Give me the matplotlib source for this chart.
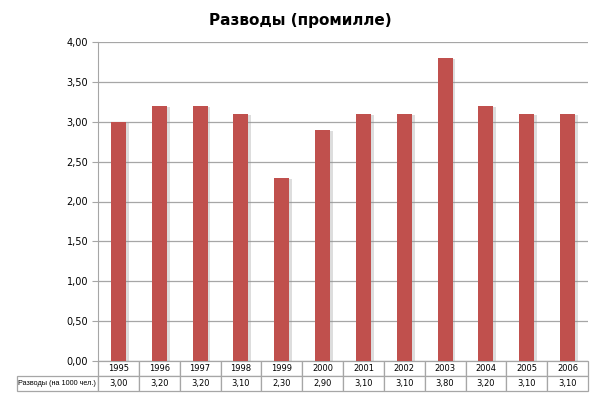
import matplotlib
matplotlib.use("Agg")
import matplotlib.pyplot as plt
import matplotlib.patheffects as pe
import numpy as np

# data
years = ["1995", "1996", "1997", "1998", "1999", "2000",
         "2001", "2002", "2003", "2004", "2005", "2006"]
divorces = [3.00, 3.20, 3.20, 3.10, 2.30, 2.90, 3.10, 3.10, 3.80, 3.20, 3.10, 3.10]
row_label = "Разводы (на 1000 чел.)"
title = "Разводы (промилле)"
yticks = [0.0, 0.5, 1.0, 1.5, 2.0, 2.5, 3.0, 3.5, 4.0]

fig = plt.figure(figsize=(6, 4), dpi=100)
ax = fig.add_axes([98/600, 1 - 361/400, 490/600, 319/400])

x = np.arange(len(years))
bars = ax.bar(x, divorces, width=0.37, color="#C0504D", zorder=3)
for b in bars:
    b.set_path_effects([pe.SimplePatchShadow(offset=(2, -1), shadow_rgbFace="#909090", alpha=0.3),
                        pe.Normal()])

ax.set_xlim(-0.5, len(years) - 0.5)
ax.set_ylim(0, 4)
ax.set_yticks(yticks)
ax.set_yticklabels([("%.2f" % v).replace(".", ",") for v in yticks], fontsize=7)
ax.yaxis.grid(True, color="#a6a6a6", linewidth=0.9, zorder=0)
ax.set_xticks([])
ax.tick_params(axis="y", length=4, color="#a6a6a6", pad=3)
for s in ["top", "right", "bottom"]:
    ax.spines[s].set_visible(False)
ax.spines["left"].set_color("#a6a6a6")

fig.text(0.5, 1 - 20/400, title, ha="center", va="center", fontsize=11, fontweight="bold")

# data table under the chart
label_w = 81.0
col_w = 490.0 / len(years)
total = label_w + col_w * len(years)
cell_text = [[""] + years, [row_label] + [("%.2f" % v).replace(".", ",") for v in divorces]]
tbl = ax.table(cellText=cell_text,
               colWidths=[label_w / total] + [col_w / total] * len(years),
               cellLoc="center",
               bbox=[-label_w / 490, -30 / 319, total / 490, 30 / 319])
tbl.auto_set_font_size(False)
for (r, c), cell in tbl.get_celld().items():
    cell.set_edgecolor("#a6a6a6")
    cell.set_linewidth(0.9)
    cell.get_text().set_fontsize(6)
    cell.get_text().set_clip_on(False)
    if c == 0 and r == 0:
        cell.visible_edges = "open"
    if c == 0 and r == 1:
        cell.get_text().set_fontsize(5.2)
        cell.get_text().set_family("Liberation Sans")
        cell.set_text_props(ha="left")
        cell.PAD = 0.01

fig.savefig("out.png", dpi=100)
